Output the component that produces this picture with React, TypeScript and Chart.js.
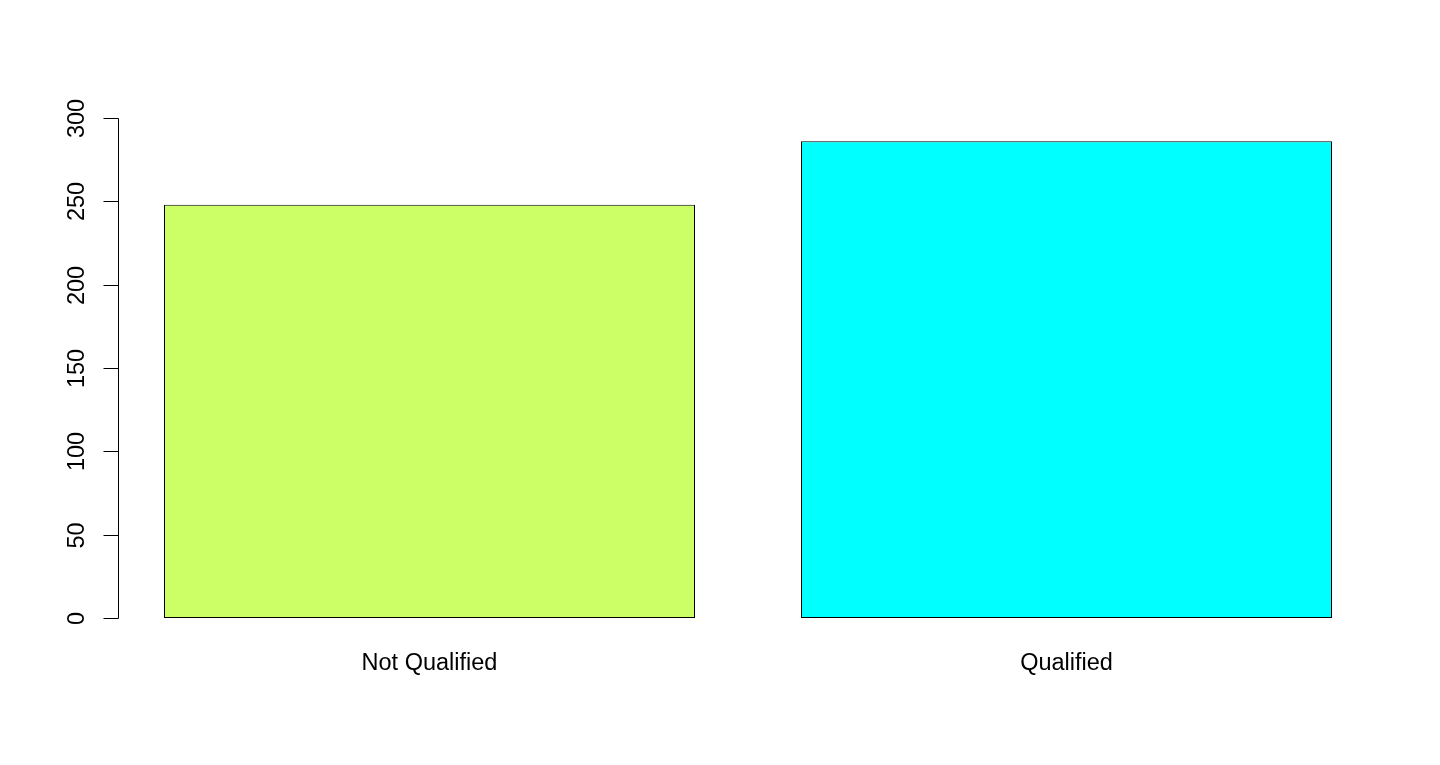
import React, { useEffect, useRef } from "react";
import { Chart, registerables } from "chart.js";

Chart.register(...registerables);

const categories = ["Not Qualified", "Qualified"];
const counts = [248, 286];
const barColors = ["#CCFF66", "#00FFFF"];
const yTicks = [0, 50, 100, 150, 200, 250, 300];

const FONT = "23.5px 'Liberation Sans', Arial, sans-serif";

const axisPlugin = {
  id: "rAxes",
  afterDraw(chart: any) {
    const ctx = chart.ctx;
    const ys = chart.scales.y;
    const xs = chart.scales.x;
    const area = chart.chartArea;
    const axisX = Math.round(area.left + 7) + 0.5;
    ctx.save();
    ctx.strokeStyle = "#000";
    ctx.lineWidth = 1;
    ctx.fillStyle = "#000";
    ctx.font = FONT;
    const y0 = Math.round(ys.getPixelForValue(yTicks[0])) + 0.5;
    const y1 = Math.round(ys.getPixelForValue(yTicks[yTicks.length - 1])) + 0.5;
    ctx.beginPath();
    ctx.moveTo(axisX, y0);
    ctx.lineTo(axisX, y1);
    ctx.stroke();
    yTicks.forEach((v) => {
      const py = Math.round(ys.getPixelForValue(v)) + 0.5;
      ctx.beginPath();
      ctx.moveTo(axisX, py);
      ctx.lineTo(axisX - 15, py);
      ctx.stroke();
      ctx.save();
      ctx.translate(axisX - 35, py);
      ctx.rotate(-Math.PI / 2);
      ctx.textAlign = "center";
      ctx.textBaseline = "alphabetic";
      ctx.fillText(String(v), 0, 0);
      ctx.restore();
    });
    ctx.textAlign = "center";
    ctx.textBaseline = "alphabetic";
    categories.forEach((c, i) => {
      const px = xs.getPixelForValue(i);
      ctx.fillText(c, px, area.bottom + 32);
    });
    ctx.restore();
  },
};

const bgPlugin = {
  id: "bgWhite",
  beforeDraw(chart: any) {
    const ctx = chart.ctx;
    ctx.save();
    ctx.fillStyle = "#fff";
    ctx.fillRect(0, 0, chart.width, chart.height);
    ctx.restore();
  },
};

export default function App() {
  const ref = useRef<HTMLCanvasElement>(null);
  useEffect(() => {
    if (!ref.current) return;
    const chart = new Chart(ref.current, {
      type: "bar",
      data: {
        labels: categories,
        datasets: [
          {
            data: counts,
            backgroundColor: barColors,
            borderColor: "#000",
            borderWidth: 1,
            borderSkipped: false,
            categoryPercentage: 1,
            barPercentage: 0.8336,
          },
        ],
      },
      options: {
        animation: false,
        responsive: false,
        maintainAspectRatio: false,
        layout: { padding: { left: 111, right: 55, top: 98, bottom: 127 } },
        plugins: { legend: { display: false }, tooltip: { enabled: false } },
        scales: {
          x: { type: "category", display: false, offset: true },
          y: { type: "linear", display: false, min: -12, max: 312 },
        },
      },
      plugins: [bgPlugin, axisPlugin],
    });
    return () => chart.destroy();
  }, []);
  return (
    <div style={{ position: "fixed", left: 0, top: 0, width: 1440, height: 765, background: "#fff" }}>
      <canvas ref={ref} width={1440} height={765} style={{ width: 1440, height: 765 }} />
    </div>
  );
}
